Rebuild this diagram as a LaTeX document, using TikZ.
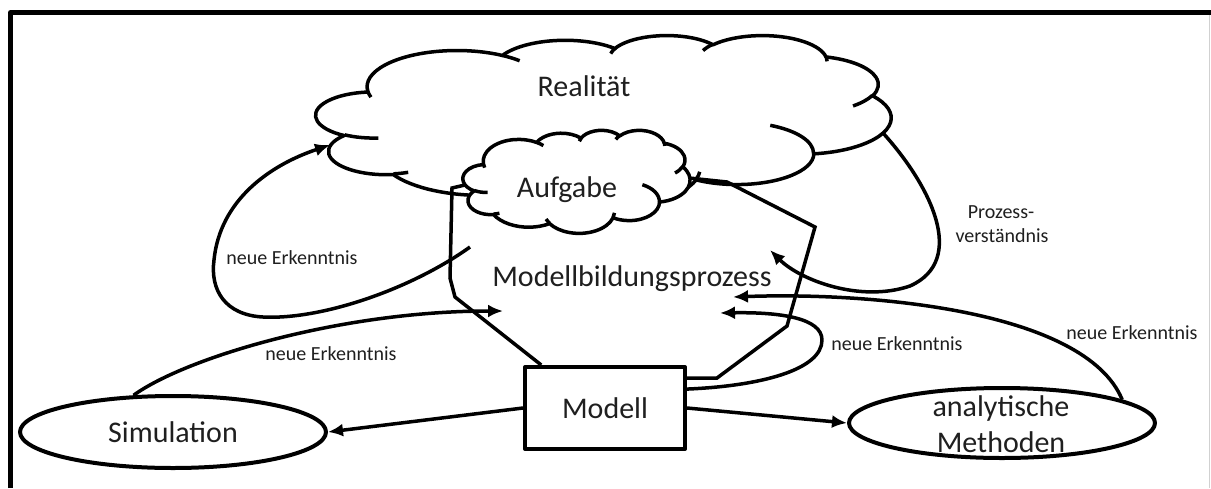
\documentclass[tikz,border=0pt]{standalone}
\usepackage{fontspec}
\setmainfont{Carlito}
\usetikzlibrary{arrows.meta,shapes.geometric}

% elliptic arc given by radii and visual start/swing angles (degrees)
\newcommand\carc[4]{arc[x radius=#1, y radius=#2,
  start angle={atan2(#1*sin(#3),#2*cos(#3))},
  delta angle={mod(atan2(#1*sin(#3+#4),#2*cos(#3+#4))-atan2(#1*sin(#3),#2*cos(#3))+720,360)}]}

% cloud outline in a 43.2 x 43.2 box
\newcommand\cloudoutline{(3.900,14.370)
  \carc{6.753}{9.190}{-190.4875}{123.7805}
  \carc{5.333}{7.267}{-144.1024}{89.9452}
  \carc{4.365}{5.945}{-145.8079}{99.7230}
  \carc{4.857}{6.595}{-130.9861}{117.2417}
  \carc{5.333}{7.273}{-78.7089}{109.0269}
  \carc{6.775}{9.220}{-46.2673}{130.2690}
  \carc{5.785}{7.867}{0.6250}{114.0333}
  \carc{6.752}{9.215}{22.4516}{115.1726}
  \carc{7.720}{10.543}{66.2426}{75.7110}
  \carc{4.360}{5.918}{-274.9421}{146.7356}
  \carc{4.345}{5.945}{-246.8285}{152.5189} -- cycle}

% inner strokes of the cloud
\newcommand\cloudticks{(4.693,26.177) \carc{4.345}{5.945}{86.7420}{26.4295}
  (6.928,34.899) \carc{4.360}{5.918}{73.6105}{11.4475}
  (16.478,39.090) \carc{6.752}{9.215}{137.6242}{14.0811}
  (28.827,34.751) \carc{6.752}{9.215}{6.4533}{15.9984}
  (34.129,22.954) \carc{5.785}{7.867}{-70.2924}{70.9174}
  (41.798,15.354) \carc{5.333}{7.273}{30.3180}{27.7515}
  (38.324,5.426) \carc{4.857}{6.595}{-13.7443}{14.8589}
  (29.078,3.952) \carc{4.857}{6.595}{-149.1815}{18.1954}
  (22.141,4.720) \carc{4.365}{5.945}{-163.4943}{17.6864}
  (14.000,5.192) \carc{6.753}{9.190}{-66.7070}{12.3194}
  (4.127,15.789) \carc{6.753}{9.190}{157.6544}{11.8582}}

\begin{document}
\begin{tikzpicture}[x=1pt, y=-1pt, line width=3.5pt, line join=round,
  arr/.style={-{Latex[length=15pt,width=13pt]}},
  big/.style={font=\fontsize{30}{36}\selectfont, text=black!88, inner sep=0pt},
  small/.style={font=\fontsize{20}{24}\selectfont, text=black!88, inner sep=0pt},
  cloudstroke/.style={line width=3.5pt},
  oval/.style={draw, ellipse, line width=4pt, inner sep=0pt}]

\useasboundingbox (0,0) rectangle (1211,488);
\fill[white] (0,0) rectangle (1211,488);

% frame
\draw[line width=5pt] (10.5,488) -- (10.5,12.5) -- (1211,12.5);
\draw[line width=1pt, black!18] (1209.5,15) -- (1209.5,488);

% Realitaet cloud
\begin{scope}[shift={(316,35)}, x=13.310pt, y=-3.935pt]
  \draw[cloudstroke, fill=white] \cloudoutline;
  \draw[cloudstroke] \cloudticks;
\end{scope}

% Aufgabe cloud
\begin{scope}[shift={(463,130)}, x=5.255pt, y=-2.384pt]
  \draw[cloudstroke, fill=white] \cloudoutline;
  \draw[cloudstroke] \cloudticks;
\end{scope}

% texts and boxes
\node[big, anchor=base] (real) at (584,96) {Realität};
\node[big, anchor=base] (aufg) at (567,197) {Aufgabe};
\node[big, anchor=base] (mbp) at (632,286) {Modellbildungsprozess};
\node[draw, line width=4pt, minimum width=160pt, minimum height=82pt,
      inner sep=0pt, big] (modell) at (605,408) {Modell};
\node[oval, minimum width=306pt, minimum height=72pt, big] (sim) at (173,432) {Simulation};
\node[oval, minimum width=306pt, minimum height=70pt] (ana) at (1002,423) {};
\node[big, anchor=base] (ana1) at (1001,416) {analytische};
\node[big, anchor=base] (ana2) at (1001,452) {Methoden};

\node[small, anchor=base] (lbl1) at (292,264) {neue Erkenntnis};
\node[small, anchor=base] (lbl2) at (331,360) {neue Erkenntnis};
\node[small, anchor=base] (lbl3) at (897,350) {neue Erkenntnis};
\node[small, anchor=base] (lbl4) at (1132,339) {neue Erkenntnis};
\node[small, anchor=base] (lbl5) at (1001,218) {Prozess-};
\node[small, anchor=base] (lbl6) at (1002,242) {verständnis};

% fixed points on the clouds
\coordinate (aufgL) at (465,185);
\coordinate (aufgR) at (689,178);
\coordinate (realL) at (330,145);
\coordinate (realR) at (883,133);
\coordinate (loopL) at (470,247);
\coordinate (mbpL) at (503,311);
\coordinate (mbpR1) at (770,250);
\coordinate (mbpR2) at (733,297);
\coordinate (mbpR3) at (720,313);

% outline of the modelling process
\draw[line join=miter] (aufgL) -- (452,188) -- (450,278) -- (455,297) -- (modell.146.5);
\draw[line join=miter] (modell.20.6) -- (717,378) -- (787,326) -- (815,227) -- (727,182) -- (aufgR);

% connectors
\draw[arr] (modell.west) -- (sim.east);
\draw[arr] (modell.east) -- (ana.west);
\draw[arr] (loopL) .. controls (410,290) and (320,320) .. (263,317)
  .. controls (225,315) and (210,290) .. (214,260)
  .. controls (220,200) and (270,165) .. (realL);
\draw[arr] (realR) .. controls (930,185) and (968,260) .. (910,286)
  .. controls (860,303) and (800,280) .. (mbpR1);
\draw[arr] (sim.137) .. controls (185,358) and (340,311) .. (mbpL);
\draw[arr] (ana.11) .. controls (1085,310) and (870,292) .. (mbpR2);
\draw[arr] (modell.13) .. controls (760,386) and (822,370) .. (822,340)
  .. controls (822,318) and (780,312) .. (mbpR3);
\end{tikzpicture}
\end{document}
